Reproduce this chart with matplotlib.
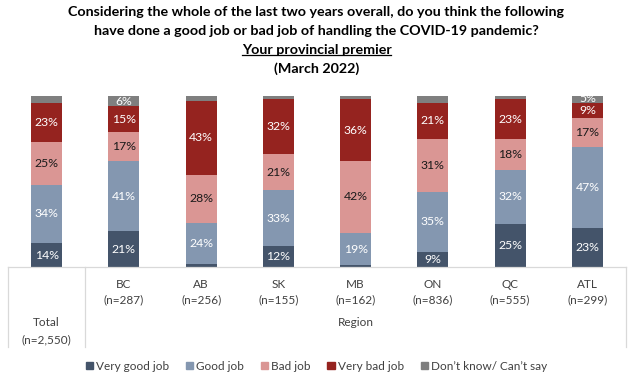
import matplotlib
matplotlib.use("Agg")
import matplotlib.pyplot as plt
from matplotlib.lines import Line2D
from matplotlib.patches import Patch
from matplotlib.transforms import blended_transform_factory

plt.rcParams["font.family"] = ["Lato", "DejaVu Sans"]

# data
groups = ["Total", "BC", "AB", "SK", "MB", "ON", "QC", "ATL"]
sample_sizes = ["(n=2,550)", "(n=287)", "(n=256)", "(n=155)", "(n=162)",
                "(n=836)", "(n=555)", "(n=299)"]
very_good = [14, 21, 2, 12, 1, 9, 25, 23]
good = [34, 41, 24, 33, 19, 35, 32, 47]
bad = [25, 17, 28, 21, 42, 31, 18, 17]
very_bad = [23, 15, 43, 32, 36, 21, 23, 9]
dont_know = [4, 6, 3, 2, 2, 4, 2, 5]

series = [
    ("Very good job", very_good, "#44546A", "white"),
    ("Good job", good, "#8497B0", "white"),
    ("Bad job", bad, "#DA9694", "#1a1a1a"),
    ("Very bad job", very_bad, "#95231F", "white"),
    ("Don\u2019t know/ Can\u2019t say", dont_know, "#7F7F7F", "white"),
]

W, H = 633, 384
fig = plt.figure(figsize=(W / 100, H / 100), dpi=100)
ax = fig.add_axes([8 / W, (H - 267) / H, 618 / W, 171 / H])

x = list(range(len(groups)))
bottoms = [0] * len(groups)
for name, vals, color, txt_color in series:
    ax.bar(x, vals, width=0.4, bottom=bottoms, color=color, label=name)
    for i, v in enumerate(vals):
        if v >= 5:
            ax.text(i, bottoms[i] + v / 2, f"{v}%", ha="center", va="center",
                    fontsize=8.8, color=txt_color)
    bottoms = [b + v for b, v in zip(bottoms, vals)]

ax.set_xlim(-0.5, len(groups) - 0.5)
ax.set_ylim(0, 100)
ax.axis("off")

# table under the bars
tr = blended_transform_factory(ax.transData, fig.transFigure)
line_kw = dict(color="#D9D9D9", lw=0.9, transform=tr, clip_on=False)
y_top = (H - 267) / H
y_bot = (H - 347) / H
ax.add_line(Line2D([-0.5, 7.5], [y_top, y_top], **line_kw))
for xv in (-0.5, 0.5, 7.5):
    ax.add_line(Line2D([xv, xv], [y_top, y_bot], **line_kw))

tbl_kw = dict(transform=tr, ha="center", va="center", fontsize=8.5,
              color="#404040")
for i in range(1, len(groups)):
    ax.text(i, (H - 284) / H, groups[i], **tbl_kw)
    ax.text(i, (H - 300) / H, sample_sizes[i], **tbl_kw)
ax.text(4, (H - 323) / H, "Region", **tbl_kw)
ax.text(0, (H - 323) / H, groups[0], **tbl_kw)
ax.text(0, (H - 340) / H, sample_sizes[0], **tbl_kw)

# title
title_lines = [
    "Considering the whole of the last two years overall, do you think the following",
    "have done a good job or bad job of handling the COVID-19 pandemic?",
    "Your provincial premier",
    "(March 2022)",
]
title_y = [12, 31, 50, 69]
texts = []
for line, yy in zip(title_lines, title_y):
    t = fig.text(0.5, (H - yy) / H, line, ha="center", va="center",
                 fontsize=10.3, fontweight="bold", color="black")
    texts.append(t)

fig.canvas.draw()
bb = texts[2].get_window_extent().transformed(fig.transFigure.inverted())
fig.add_artist(Line2D([bb.x0, bb.x1], [bb.y0 + 0.002, bb.y0 + 0.002],
                      color="black", lw=0.9, transform=fig.transFigure))

handles = [Patch(color=c, label=n) for n, _, c, _ in series]
fig.legend(handles=handles, loc="center", bbox_to_anchor=(0.5, (H - 366) / H),
           ncol=5, frameon=False, fontsize=8.5, handlelength=0.6,
           handleheight=0.6, handletextpad=0.3, columnspacing=1.4,
           labelcolor="#404040")

fig.savefig("out.png", dpi=100)
